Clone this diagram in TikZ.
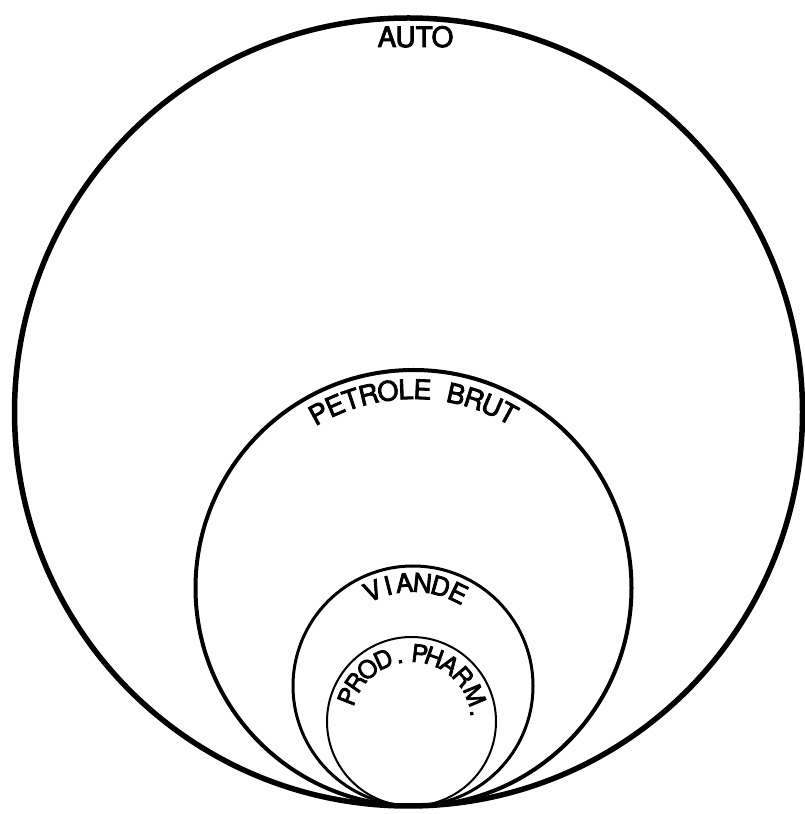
\documentclass[tikz,border=0pt]{standalone}
\usepackage{fontspec}
\newfontfamily\hv[FakeBold=3]{TeX Gyre Heros}
\begin{document}
\begin{tikzpicture}[x=1pt,y=1pt,
  ring/.style={draw=black},
  arcletter/.style={anchor=base, inner sep=0pt, font=\hv\fontsize{#1}{#1}\selectfont}]
\useasboundingbox (0,0) rectangle (805,814);
% centres (image y flipped: y = 814 - y_img)
\coordinate (cauto) at (408.5,402);
\coordinate (cpet) at (413.5,226);
\coordinate (cvia) at (413,128);
\coordinate (cpha) at (411.5,92.5);
\draw[ring, line width=5.5pt] (cauto) circle[radius=394];
\draw[ring, line width=4pt] (cpet) circle[radius=218];
\draw[ring, line width=3pt] (cvia) circle[radius=120];
\draw[ring, line width=2pt] (cpha) circle[radius=84.5];
% AUTO
\node[anchor=base, inner sep=0pt, font=\hv\fontsize{28}{28}\selectfont] (tauto) at (415.5,767) {AUTO};
% PETROLE BRUT
\foreach \ch/\a in {P/118.5, E/113.3, T/108.3, R/103.1, O/97.4, L/92.2, E/87.4, B/77.6, R/72.2, U/66.7, T/61.5}
  \path (cpet) ++(\a:189) node[arcletter=27, rotate=\a-90] {\ch};
% VIANDE
\foreach \ch/\a in {V/113, I/104, A/94.8, N/84.7, D/74.5, E/64}
  \path (cvia) ++(\a:94) node[arcletter=26, rotate=\a-90] {\ch};
% PROD. PHARM.
\foreach \ch/\a in {P/158.5, R/145, O/130, D/114.5, ./100.4, P/83, H/70.6, A/56, R/41, M/22.5, ./7.5}
  \path (cpha) ++(\a:59.5) node[arcletter=24.5, rotate=\a-90] {\ch};
\end{tikzpicture}
\end{document}
